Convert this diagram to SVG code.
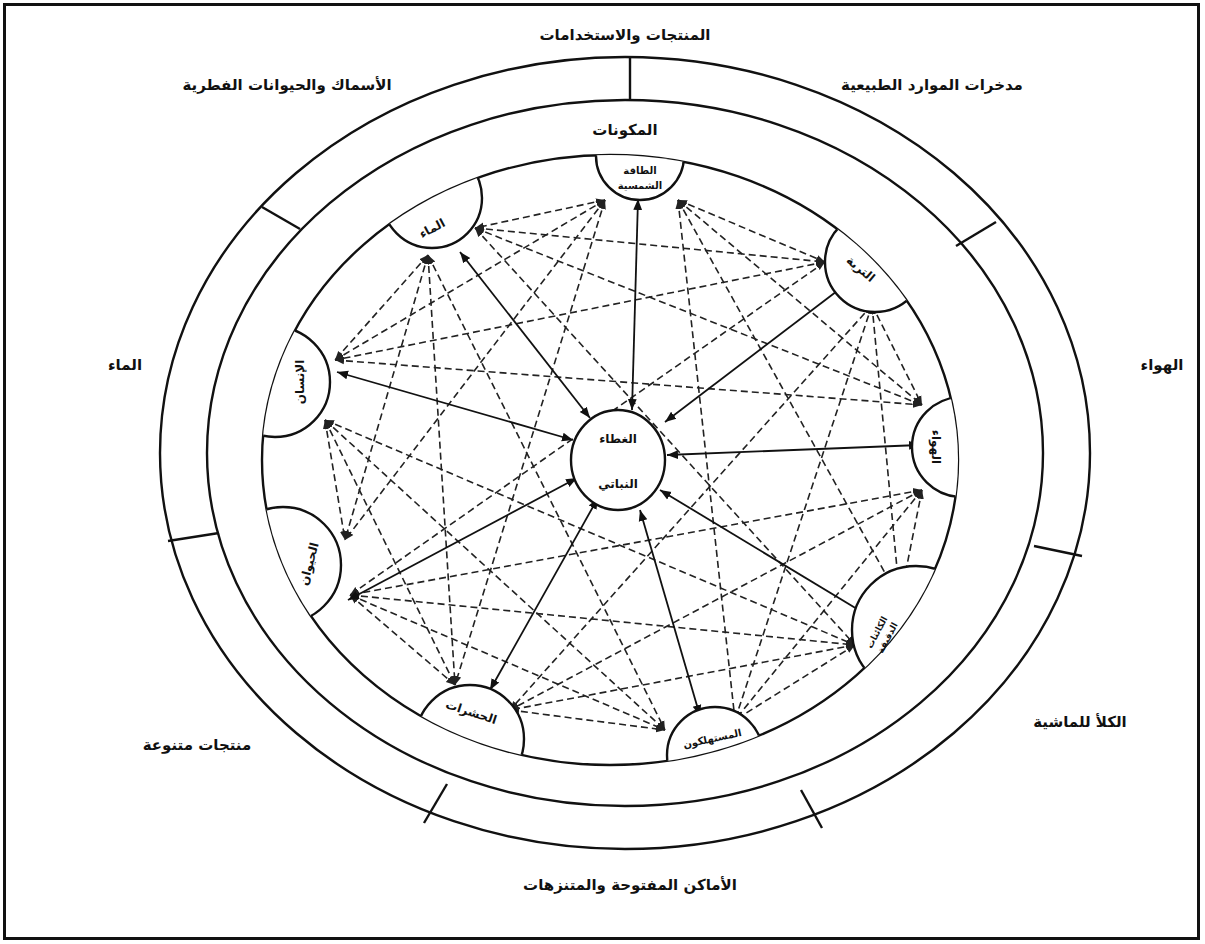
<svg xmlns="http://www.w3.org/2000/svg" width="1205" height="944" viewBox="0 0 1205 944">
<defs>
<style>
.t{font-family:"DejaVu Sans",sans-serif;font-weight:bold;fill:#111;text-anchor:middle;direction:rtl}
.big{font-size:15px}
.nd{font-size:12px}
.sm{font-size:10px}
.xs{font-size:9px}
.ring{fill:none;stroke:#111;stroke-width:2.4}
.div{stroke:#111;stroke-width:2.4}
.dash{stroke:#222;stroke-width:1.6;stroke-dasharray:7 4;fill:none;marker-start:url(#ah);marker-end:url(#ah)}
.sol{stroke:#111;stroke-width:1.8;fill:none;marker-start:url(#ahs);marker-end:url(#ahs)}
.node{fill:#fff;stroke:#111;stroke-width:2.4}
</style>
<marker id="ah" viewBox="0 0 10 10" refX="10" refY="5" markerWidth="9" markerHeight="9" orient="auto-start-reverse" markerUnits="userSpaceOnUse"><path d="M0,1 L10,5 L0,9 z" fill="#222"/></marker>
<marker id="ahs" viewBox="0 0 10 10" refX="10" refY="5" markerWidth="11" markerHeight="11" orient="auto-start-reverse" markerUnits="userSpaceOnUse"><path d="M0,1 L10,5 L0,9 z" fill="#111"/></marker>
<clipPath id="inner"><ellipse cx="610" cy="460" rx="348" ry="305"/></clipPath>
</defs>
<rect x="0" y="0" width="1205" height="944" fill="#fff"/>
<rect x="4.5" y="4.5" width="1194" height="934" fill="none" stroke="#111" stroke-width="3"/>

<g id="rings">
<ellipse class="ring" cx="625" cy="453" rx="465" ry="396"/>
<ellipse class="ring" cx="625" cy="453" rx="418" ry="353"/>
<line class="div" x1="630" y1="57" x2="630" y2="100"/>
<line class="div" x1="262" y1="207" x2="300" y2="229"/>
<line class="div" x1="996" y1="222" x2="956" y2="246"/>
<line class="div" x1="168" y1="541" x2="219" y2="533"/>
<line class="div" x1="1082" y1="556" x2="1034" y2="546"/>
<line class="div" x1="424" y1="823" x2="447" y2="784"/>
<line class="div" x1="822" y1="828" x2="801" y2="790"/>
</g>

<g id="labels">
<text class="t big" x="625" y="40">المنتجات والاستخدامات</text>
<text class="t big" x="287" y="90">الأسماك والحيوانات الفطرية</text>
<text class="t big" x="932" y="90">مدخرات الموارد الطبيعية</text>
<text class="t big" x="125" y="370">الماء</text>
<text class="t big" x="1162" y="370">الهواء</text>
<text class="t big" x="197" y="750">منتجات متنوعة</text>
<text class="t big" x="1080" y="727">الكلأ للماشية</text>
<text class="t big" x="630" y="890">الأماكن المفتوحة والمتنزهات</text>
<text class="t big" x="625" y="135">المكونات</text>
</g>

<g id="connectors">
<line class="dash" x1="605" y1="200" x2="475" y2="228"/>
<line class="dash" x1="678" y1="200" x2="825" y2="262"/>
<line class="dash" x1="605" y1="200" x2="335" y2="360"/>
<line class="dash" x1="678" y1="200" x2="922" y2="405"/>
<line class="dash" x1="605" y1="200" x2="345" y2="540"/>
<line class="dash" x1="678" y1="200" x2="900" y2="600"/>
<line class="dash" x1="605" y1="200" x2="455" y2="685"/>
<line class="dash" x1="678" y1="200" x2="735" y2="720"/>
<line class="dash" x1="475" y1="228" x2="825" y2="262"/>
<line class="dash" x1="428" y1="255" x2="335" y2="360"/>
<line class="dash" x1="475" y1="228" x2="922" y2="405"/>
<line class="dash" x1="428" y1="255" x2="345" y2="540"/>
<line class="dash" x1="475" y1="228" x2="855" y2="645"/>
<line class="dash" x1="428" y1="255" x2="455" y2="685"/>
<line class="dash" x1="428" y1="255" x2="665" y2="730"/>
<line class="dash" x1="825" y1="262" x2="335" y2="360"/>
<line class="dash" x1="872" y1="305" x2="922" y2="405"/>
<line class="dash" x1="825" y1="262" x2="350" y2="595"/>
<line class="dash" x1="872" y1="305" x2="900" y2="600"/>
<line class="dash" x1="872" y1="305" x2="510" y2="710"/>
<line class="dash" x1="872" y1="305" x2="735" y2="720"/>
<line class="dash" x1="335" y1="360" x2="922" y2="405"/>
<line class="dash" x1="325" y1="420" x2="345" y2="540"/>
<line class="dash" x1="325" y1="420" x2="855" y2="645"/>
<line class="dash" x1="325" y1="420" x2="455" y2="685"/>
<line class="dash" x1="325" y1="420" x2="665" y2="730"/>
<line class="dash" x1="922" y1="490" x2="350" y2="595"/>
<line class="dash" x1="922" y1="490" x2="900" y2="600"/>
<line class="dash" x1="922" y1="490" x2="510" y2="710"/>
<line class="dash" x1="922" y1="490" x2="735" y2="720"/>
<line class="dash" x1="350" y1="595" x2="855" y2="645"/>
<line class="dash" x1="350" y1="595" x2="455" y2="685"/>
<line class="dash" x1="350" y1="595" x2="665" y2="730"/>
<line class="dash" x1="855" y1="645" x2="510" y2="710"/>
<line class="dash" x1="855" y1="645" x2="735" y2="720"/>
<line class="dash" x1="510" y1="710" x2="665" y2="730"/>
<line class="sol" x1="632" y1="410" x2="638" y2="199"/>
<line class="sol" x1="590" y1="418" x2="460" y2="252"/>
<line class="sol" x1="665" y1="422" x2="845" y2="285"/>
<line class="sol" x1="573" y1="440" x2="337" y2="372"/>
<line class="sol" x1="667" y1="455" x2="920" y2="445"/>
<line class="sol" x1="577" y1="478" x2="348" y2="600"/>
<line class="sol" x1="660" y1="490" x2="872" y2="618"/>
<line class="sol" x1="598" y1="498" x2="490" y2="690"/>
<line class="sol" x1="640" y1="510" x2="700" y2="716"/>
</g>

<g id="inner-ring">
<ellipse class="ring" cx="610" cy="460" rx="348" ry="305"/>
</g>

<g id="n-solar"><g clip-path="url(#inner)"><circle class="node" cx="640" cy="156" r="44"/></g>
<text class="t sm" x="640" y="174">الطاقة</text><text class="t sm" x="640" y="189">الشمسية</text></g>

<g id="n-water"><g clip-path="url(#inner)"><circle class="node" cx="432" cy="198" r="50"/></g>
<text class="t nd" transform="translate(434,232) rotate(-28)">الماء</text></g>

<g id="n-soil"><g clip-path="url(#inner)"><circle class="node" cx="875" cy="262" r="50"/></g>
<text class="t nd" transform="translate(858,272) rotate(40)">التربة</text></g>

<g id="n-human"><g clip-path="url(#inner)"><circle class="node" cx="275" cy="382" r="55"/></g>
<text class="t nd" transform="translate(304,382) rotate(-90)">الإنسان</text></g>

<g id="n-air"><g clip-path="url(#inner)"><circle class="node" cx="962" cy="447" r="50"/></g>
<text class="t nd" transform="translate(932,447) rotate(90)">الهواء</text></g>

<g id="n-animal"><g clip-path="url(#inner)"><circle class="node" cx="283" cy="565" r="58"/></g>
<text class="t nd" transform="translate(313,565) rotate(-75)">الحيوان</text></g>

<g id="n-micro"><g clip-path="url(#inner)"><circle class="node" cx="916" cy="630" r="64"/></g>
<text class="t xs" transform="translate(884,636) rotate(-62)"><tspan x="0" y="-5">الكائنات</tspan><tspan x="0" y="7">الدقيقة</tspan></text></g>

<g id="n-bl"><g clip-path="url(#inner)"><circle class="node" cx="470" cy="739" r="54"/></g>
<text class="t nd" transform="translate(470,716) rotate(18)">الحشرات</text></g>

<g id="n-bottom"><g clip-path="url(#inner)"><circle class="node" cx="715" cy="755" r="48"/></g>
<text class="t sm" transform="translate(713,742) rotate(-12)">المستهلكون</text></g>

<g id="n-center">
<ellipse class="node" cx="618" cy="460" rx="47" ry="50"/>
<text class="t nd" x="618" y="443">الغطاء</text>
<text class="t nd" x="618" y="488">النباتي</text>
</g>
</svg>
